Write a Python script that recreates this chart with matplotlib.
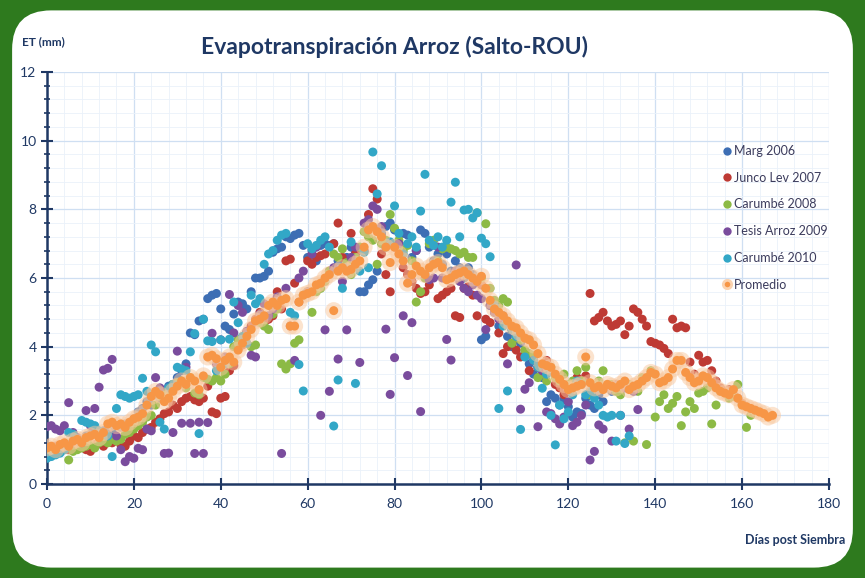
import matplotlib.pyplot as plt
from matplotlib.patches import FancyBboxPatch
from matplotlib.lines import Line2D
from matplotlib.ticker import MultipleLocator

# ET (mm) per day after sowing
marg_2006 = [0.85, 0.9, 0.95, 1.1, 1.0, 1.15, 1.2, 1.3, 1.25, 1.4,
             1.45, 1.5, 1.35, 1.55, 1.6, 1.5, 1.7, 1.65, 1.75, 1.6,
             1.9, 2.1, 2.2, 2.4, 2.3, 2.6, 2.5, 2.7, 2.85, 2.9,
             3.1, 3.3, 3.5, 4.4, 4.35, 4.75, 4.8, 5.4, 5.5, 5.55,
             5.1, 4.6, 4.5, 4.95, 5.3, 5.25, 5.1, 5.6, 6.0, 6.0,
             6.05, 6.2, 6.75, 6.85, 6.9, 7.2, 7.15, 7.25, 7.3, 6.95,
             6.6, 6.8, 6.5, 6.95, 7.0, 6.95, 7.0, 6.5, 6.3, 6.6,
             6.9, 6.75, 5.6, 5.6, 5.8, 5.95, 6.2, 7.3, 7.5, 7.6,
             7.4, 7.0, 7.3, 7.25, 6.6, 6.8, 7.4, 7.3, 6.9, 6.5,
             6.7, 6.4, 6.7, 6.2, 6.5, 6.3, 6.0, 6.3, 6.1, 5.9,
             4.2, 4.3, 5.2, 5.0, 4.6, 4.9, 4.3, 4.0, 4.35, 4.1,
             3.8, 3.5, 3.2, 3.4, 3.1, 2.4, 2.6, 2.5, 2.3, 2.45,
             2.25, 1.95, 2.1, 2.05, 2.5, 2.3, 2.2, 2.6, 2.4, 2.8,
             2.7]

junco_lev_2007 = [1.0, 1.05, 1.1, 0.95, 1.15, 1.0, 1.05, 1.2, 1.1, 1.0,
                  0.95, 1.15, 1.2, 1.1, 1.25, 1.2, 1.3, 1.15, 1.1, 1.25,
                  1.4, 1.35, 1.5, 1.6, 1.65, 1.8, 1.9, 2.05, 2.1, 2.3,
                  2.2, 2.4, 2.5, 2.55, 2.45, 2.4, 2.5, 2.85, 2.1, 2.05,
                  2.5, 2.55, 3.3, 3.45, 3.95, 4.05, 4.4, 4.6, 4.8, 5.0,
                  4.7, 4.8, 4.9, 5.6, 5.1, 6.5, 6.55, 5.85, 5.3, 5.5,
                  6.5, 6.4, 6.6, 6.65, 6.7, 6.2, 7.0, 7.6, 6.6, 6.3,
                  7.3, 6.7, 6.85, 6.8, 7.85, 8.6, 8.3, 6.7, 6.1, 5.6,
                  6.9, 7.0, 6.3, 6.1, 5.9, 5.7, 5.55, 5.6, 5.8, 6.4,
                  5.4, 5.5, 5.6, 5.7, 4.9, 4.85, 5.7, 5.75, 5.5, 4.9,
                  5.8, 4.8, 4.7, 5.1, 4.4, 3.8, 4.0, 4.1, 3.9, 3.7,
                  4.25, 3.3, 3.6, 3.4, 3.2, 3.6, 3.3, 2.9, 2.8, 2.6,
                  2.7, 2.8, 3.1, 2.9, 3.15, 5.55, 4.75, 4.85, 5.0, 4.75,
                  4.6, 4.65, 4.75, 4.35, 4.6, 5.1, 5.0, 4.8, 4.6, 4.15,
                  4.1, 4.05, 3.95, 3.8, 4.8, 4.55, 4.6, 4.55, 3.55, 3.2,
                  3.75, 3.55, 3.6, 3.3, 3.0, 2.8, 2.7, 2.75, 2.6, 2.5,
                  2.35, 2.25, 2.2, 2.15, 2.1]

carumbe_2008 = [0.8, 0.85, 0.9, 0.95, 1.0, 0.7, 0.95, 1.0, 1.05, 1.1,
                1.15, 1.05, 1.2, 1.25, 1.2, 1.3, 1.25, 1.3, 1.45, 1.5,
                1.6, 1.7, 1.8, 1.95, 2.0, 2.3, 2.55, 2.6, 2.75, 2.9,
                2.95, 3.0, 2.8, 3.1, 2.65, 2.6, 3.1, 3.05, 3.0, 3.1,
                3.0, 3.2, 3.5, 4.0, 4.2, 4.1, 4.4, 4.0, 4.05, 4.7,
                4.6, 4.5, 4.95, 5.1, 3.5, 3.35, 3.5, 4.1, 4.2, 5.5,
                5.6, 5.0, 5.6, 5.7, 5.9, 6.2, 6.7, 6.6, 6.85, 6.45,
                6.1, 6.6, 6.9, 7.35, 7.2, 7.1, 6.4, 7.0, 7.1, 7.85,
                7.45, 7.1, 6.8, 6.95, 6.5, 5.3, 5.6, 6.0, 7.0, 7.1,
                6.5, 6.85, 6.9, 6.85, 6.8, 6.7, 6.75, 6.6, 6.6, 7.9,
                6.0, 7.58, 5.7, 5.35, 5.2, 5.4, 5.3, 4.1, 4.3, 4.2,
                3.9, 3.8, 3.75, 3.1, 3.2, 3.0, 3.4, 3.1, 3.0, 3.2,
                2.9, 3.0, 3.3, 3.0, 3.4, 2.6, 2.8, 3.0, 3.3, 2.9,
                2.9, 2.7, 2.6, 1.2, 2.9, 1.25, 2.7, 3.1, 1.15, 3.3,
                1.95, 2.4, 2.6, 2.2, 2.35, 2.55, 1.7, 2.1, 2.4, 2.2,
                2.65, 2.7, 2.8, 1.75, 2.3, 2.7, 2.65, 2.5, 2.55, 2.9,
                2.3, 1.65, 2.0]

tesis_arroz_2009 = [1.67, 1.7, 1.6, 1.55, 1.7, 2.37, 1.5, 1.35, 1.2, 2.14,
                    1.7, 2.2, 2.82, 3.32, 3.37, 3.63, 1.4, 1.0, 0.65, 0.8,
                    0.75, 1.04, 1.0, 1.6, 1.55, 3.1, 2.8, 0.89, 0.9, 1.5,
                    3.87, 1.77, 3.4, 1.77, 0.89, 1.8, 0.89, 1.79, 4.39, 3.5,
                    4.2, 3.7, 5.52, 4.4, 5.2, 5.0, 4.45, 3.75, 3.7, 4.95,
                    5.25, 4.9, 5.1, 5.45, 0.89, 5.7, 4.6, 3.6, 6.0, 6.2,
                    5.6, 6.7, 6.9, 2.0, 4.49, 2.7, 6.3, 3.64, 5.9, 4.49,
                    6.6, 6.9, 3.54, 7.6, 7.7, 8.1, 8.0, 7.5, 4.51, 2.61,
                    3.68, 7.0, 4.9, 3.16, 4.7, 6.8, 2.11, 6.1, 5.95, 6.0,
                    6.9, 6.0, 4.21, 3.61, 6.2, 5.9, 5.7, 5.6, 5.8, 5.5,
                    5.4, 4.5, 5.2, 5.0, 4.8, 4.9, 3.5, 4.5, 6.38, 2.18,
                    2.76, 2.95, 3.6, 1.67, 3.3, 2.1, 2.05, 1.9, 1.75, 1.95,
                    2.4, 1.7, 1.8, 2.0, 2.3, 0.7, 0.95, 1.72, 1.6, 2.85,
                    1.25, 2.9, 2.0, 2.8, 1.6, 2.7, 2.17]

carumbe_2010 = [0.75, 0.8, 0.85, 0.9, 1.0, 1.5, 1.45, 1.3, 1.85, 1.8,
                1.75, 1.7, 1.55, 1.5, 1.4, 0.8, 2.2, 2.6, 2.55, 2.5,
                2.55, 2.6, 3.08, 2.7, 4.05, 3.85, 1.8, 1.6, 2.8, 2.9,
                3.4, 3.35, 3.3, 3.85, 4.38, 1.47, 4.8, 4.17, 4.15, 3.3,
                4.2, 3.5, 4.22, 5.3, 4.7, 4.3, 4.1, 5.5, 5.25, 5.4,
                6.4, 6.7, 6.8, 7.1, 7.25, 7.3, 5.0, 4.9, 3.48, 2.71,
                7.0, 6.85, 6.95, 7.1, 7.2, 6.9, 1.69, 3.03, 5.7, 6.3,
                7.05, 2.93, 6.2, 6.75, 6.3, 9.67, 8.45, 9.27, 6.9, 7.05,
                8.1, 7.3, 6.7, 7.0, 7.2, 6.9, 7.95, 9.02, 7.1, 6.95,
                7.2, 6.9, 7.1, 8.21, 8.79, 7.2, 7.98, 8.0, 7.75, 7.9,
                7.16, 7.0, 6.62, 5.2, 2.2, 4.6, 2.71, 4.5, 4.3, 1.59,
                3.7, 4.2, 3.6, 3.4, 2.79, 3.2, 2.0, 1.14, 2.3, 1.9,
                2.1, 2.6, 3.0, 2.9, 2.6, 2.7, 2.5, 2.3, 2.0, 1.95,
                2.0, 1.25, 2.0, 1.18, 1.4]

promedio = [1.05, 1.1, 1.0, 1.15, 1.2, 1.1, 1.25, 1.3, 1.2, 1.35,
            1.4, 1.45, 1.35, 1.5, 1.75, 1.8, 1.7, 1.75, 1.65, 1.8,
            1.9, 1.95, 2.05, 2.3, 2.55, 2.7, 2.6, 2.4, 2.5, 2.7,
            2.85, 3.0, 2.9, 3.1, 3.0, 2.75, 3.15, 3.7, 3.75, 3.65,
            3.4, 3.6, 3.7, 3.55, 3.9, 4.1, 4.3, 4.5, 4.75, 4.8,
            4.9, 5.2, 5.3, 5.2, 5.35, 5.4, 4.6, 4.6, 5.3, 5.5,
            5.55, 5.6, 5.8, 5.85, 6.0, 6.1, 5.05, 6.2, 6.3, 6.2,
            6.25, 6.4, 6.5, 6.9, 7.4, 7.5, 7.35, 7.2, 6.9, 6.45,
            6.9, 6.7, 6.5, 5.85, 6.1, 6.35, 6.2, 6.1, 6.3, 6.4,
            6.45, 6.3, 5.95, 6.0, 6.1, 6.15, 6.2, 6.1, 6.0, 5.9,
            6.05, 5.7, 5.35, 5.1, 5.0, 4.9, 4.75, 4.6, 4.55, 4.4,
            4.25, 4.2, 4.05, 3.8, 3.5, 3.45, 3.4, 3.2, 3.05, 2.9,
            2.75, 2.8, 2.85, 2.9, 3.7, 2.95, 2.8, 2.85, 2.75, 2.9,
            2.85, 2.8, 2.9, 3.0, 2.75, 2.85, 2.9, 3.0, 3.1, 3.25,
            3.2, 2.95, 3.0, 3.1, 3.35, 3.6, 3.6, 3.25, 3.1, 2.95,
            3.0, 3.15, 3.1, 2.95, 2.8, 2.7, 2.65, 2.6, 2.75, 2.5,
            2.3, 2.25, 2.2, 2.15, 2.1, 2.05, 1.95, 2.0]

series = [("Marg 2006", marg_2006, "#3D6EB4"),
          ("Junco Lev 2007", junco_lev_2007, "#BE3A34"),
          ("Carumbé 2008", carumbe_2008, "#8CBA45"),
          ("Tesis Arroz 2009", tesis_arroz_2009, "#7A4C9D"),
          ("Carumbé 2010", carumbe_2010, "#32A7C7")]

navy = "#1F3864"
plt.rcParams['font.family'] = ['Lato', 'DejaVu Sans']

fig = plt.figure(figsize=(8.65, 5.78), dpi=100, facecolor="#2E7A1E")
panel = FancyBboxPatch((0.014, 0.018), 0.972, 0.964,
                       boxstyle="round,pad=0,rounding_size=0.045",
                       transform=fig.transFigure, facecolor="white",
                       edgecolor="none", mutation_aspect=865 / 578,
                       zorder=-5)
fig.patches.append(panel)

ax = fig.add_axes([0.0543, 0.1626, 0.9041, 0.7128])
ax.set_zorder(2)
ax.set_facecolor("white")

for name, vals, col in series:
    ax.scatter(range(len(vals)), vals, s=42, color=col, edgecolors="none",
               zorder=3)

ax.scatter(range(len(promedio)), promedio, s=150, color="#F9C89E",
           alpha=0.5, edgecolors="none", zorder=4)
ax.scatter(range(len(promedio)), promedio, s=42, color="#F79646",
           edgecolors="none", zorder=5)

ax.set_xlim(0, 180)
ax.set_ylim(0, 12)
ax.xaxis.set_major_locator(MultipleLocator(20))
ax.xaxis.set_minor_locator(MultipleLocator(4))
ax.yaxis.set_major_locator(MultipleLocator(2))
ax.yaxis.set_minor_locator(MultipleLocator(0.4))
ax.grid(which="major", color="#CFDFF2", linewidth=0.9, zorder=0)
ax.grid(which="minor", color="#EAF1FA", linewidth=0.6, zorder=0)
ax.set_axisbelow(True)

for sp in ["top", "right"]:
    ax.spines[sp].set_visible(False)
for sp in ["left", "bottom"]:
    ax.spines[sp].set_color(navy)
    ax.spines[sp].set_linewidth(1.8)

ax.tick_params(which="major", direction="inout", length=8, width=1.5,
               color=navy, labelcolor=navy, labelsize=10)
ax.tick_params(axis="y", which="minor", direction="inout", length=5,
               width=1.2, color=navy)
ax.tick_params(axis="x", which="minor", length=0)
ax.tick_params(axis="x", pad=6)

fig.text(0.456, 0.919, "Evapotranspiración Arroz (Salto-ROU)", ha="center",
         va="center", fontsize=16.5, fontweight="bold", color=navy)
fig.text(0.025, 0.928, "ET (mm)", ha="left", va="center", fontsize=8.5,
         fontweight="bold", color=navy)
fig.text(0.977, 0.066, "Días post Siembra", ha="right", va="center",
         fontsize=9, fontweight="bold", color=navy)

handles = [Line2D([], [], marker="o", linestyle="none", markersize=6,
                  markerfacecolor=col, markeredgecolor="none")
           for _, _, col in series]
handles.append(Line2D([], [], marker="o", linestyle="none", markersize=6,
                      markerfacecolor="#F79646", markeredgecolor="#FBD3B0",
                      markeredgewidth=2))
labels = [n for n, _, _ in series] + ["Promedio"]
leg = ax.legend(handles, labels, loc="upper left",
                bbox_to_anchor=(0.855, 0.835), frameon=False, fontsize=9,
                handletextpad=0.05, labelspacing=1.18, handlelength=1.0,
                borderaxespad=0)
for t in leg.get_texts():
    t.set_color("#3B3B5C")

fig.savefig("out.png", dpi=100, facecolor=fig.get_facecolor())
